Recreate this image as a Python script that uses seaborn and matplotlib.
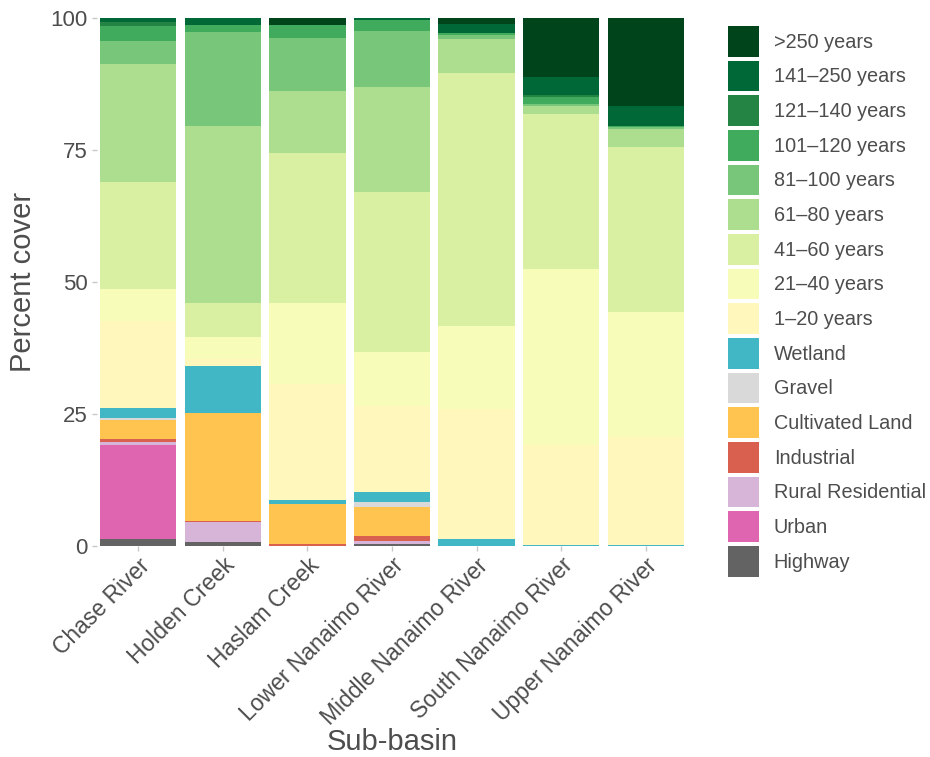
import numpy as np
import pandas as pd
import seaborn as sns
import matplotlib.pyplot as plt
from matplotlib.patches import Patch

plt.rcParams['font.family'] = ['Liberation Sans', 'DejaVu Sans']

basins = ['Chase River', 'Holden Creek', 'Haslam Creek', 'Lower Nanaimo River',
          'Middle Nanaimo River', 'South Nanaimo River', 'Upper Nanaimo River']

# legend order (top of the stack first)
classes = ['>250 years', '141–250 years', '121–140 years', '101–120 years',
           '81–100 years', '61–80 years', '41–60 years', '21–40 years', '1–20 years',
           'Wetland', 'Gravel', 'Cultivated Land', 'Industrial',
           'Rural Residential', 'Urban', 'Highway']

colors = ['#00441b', '#006837', '#238443', '#41ab5d', '#78c679', '#addd8e',
          '#d9f0a3', '#f7fcb9', '#fff7bc', '#41b6c4', '#d9d9d9', '#fec44f',
          '#d95f4e', '#d7b5d8', '#df65b0', '#636363']

# percent cover, one value per sub-basin (same order as basins)
gt250 = [0.0, 0.0, 1.3, 0.0, 1.1, 11.2, 16.7]
y141_250 = [0.8, 1.3, 0.0, 0.4, 1.8, 3.4, 3.8]
y121_140 = [0.8, 0.0, 0.0, 0.0, 0.0, 0.4, 0.0]
y101_120 = [2.7, 1.3, 2.4, 2.0, 0.3, 1.2, 0.2]
y81_100 = [4.4, 17.9, 10.2, 10.6, 0.8, 0.5, 0.3]
y61_80 = [22.3, 33.5, 11.7, 19.9, 6.4, 1.4, 3.4]
y41_60 = [20.3, 6.4, 28.3, 30.3, 47.9, 29.4, 31.3]
y21_40 = [6.1, 4.2, 15.5, 10.2, 15.7, 33.4, 23.7]
y1_20 = [16.5, 1.3, 21.9, 16.4, 24.7, 18.9, 20.4]
wetland = [1.9, 9.0, 0.7, 1.9, 1.3, 0.2, 0.2]
gravel = [0.3, 0.0, 0.0, 0.9, 0.0, 0.0, 0.0]
cultivated = [3.7, 20.3, 7.6, 5.5, 0.0, 0.0, 0.0]
industrial = [0.45, 0.3, 0.4, 0.9, 0.0, 0.0, 0.0]
rural_res = [0.65, 3.8, 0.0, 0.6, 0.0, 0.0, 0.0]
urban = [17.8, 0.0, 0.0, 0.0, 0.0, 0.0, 0.0]
highway = [1.3, 0.7, 0.0, 0.4, 0.0, 0.0, 0.0]

values = [gt250, y141_250, y121_140, y101_120, y81_100, y61_80, y41_60,
          y21_40, y1_20, wetland, gravel, cultivated, industrial, rural_res,
          urban, highway]

rows = []
for cls, vals in zip(classes, values):
    for b, v in zip(basins, vals):
        rows.append({'basin': b, 'cover': cls, 'pct': v})
df = pd.DataFrame(rows)

palette = dict(zip(classes, colors))

fig = plt.figure(figsize=(9.3, 7.57), dpi=100)
ax = fig.add_axes([97 / 930, 1 - 546 / 757, 590 / 930, 528 / 757])

sns.histplot(data=df, x='basin', hue='cover', weights='pct', hue_order=classes,
             palette=palette, multiple='stack', discrete=True, shrink=0.9,
             linewidth=0, alpha=1, legend=False, ax=ax)

ax.set_xlim(-0.49, 6.49)
ax.set_ylim(0, 100)
ax.set_yticks([0, 25, 50, 75, 100])
ax.set_xticks(range(len(basins)))
ax.set_xticklabels(basins, rotation=45, ha='right', rotation_mode='anchor')
for s in ax.spines.values():
    s.set_visible(False)
ax.tick_params(length=3.6, width=1, color='#c8c8c8', labelsize=16,
               labelcolor='#4d4d4d', pad=3)
ax.tick_params(axis='x', labelsize=16.5, pad=2)
ax.set_xlabel('Sub-basin', fontsize=21, color='#4d4d4d')
ax.xaxis.set_label_coords(0.5, -0.345)
ax.set_ylabel('Percent cover', fontsize=21, color='#4d4d4d', labelpad=10)

handles = [Patch(facecolor=palette[c], edgecolor='none') for c in classes]
fig.legend(handles, classes, loc='upper left', bbox_to_anchor=(728 / 930, 1 - 26 / 757),
           frameon=False, fontsize=14.3, labelcolor='#4d4d4d', handlelength=1.55,
           handleheight=2.0, labelspacing=0.2, handletextpad=0.75,
           borderpad=0, borderaxespad=0)

fig.savefig('out.png', dpi=100)
